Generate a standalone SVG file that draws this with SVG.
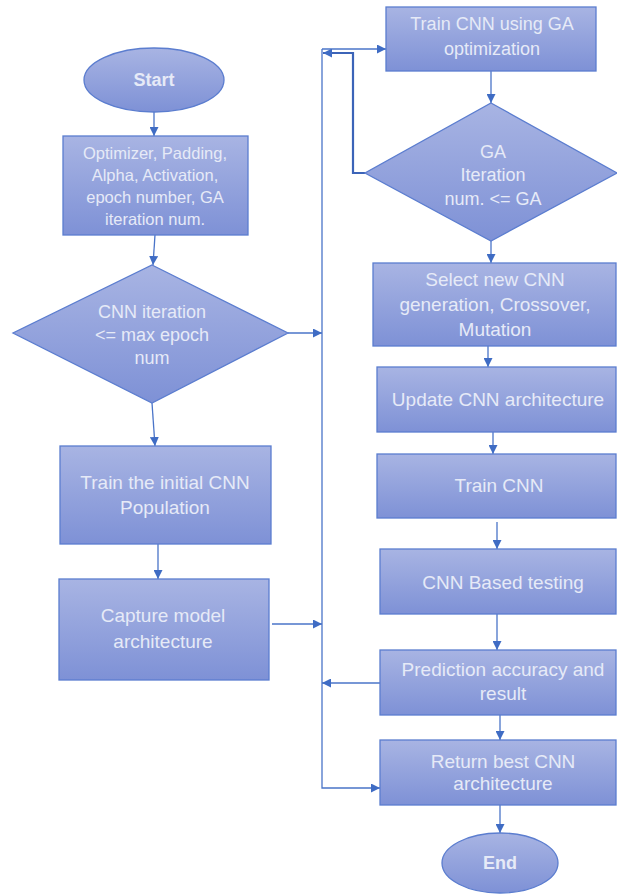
<svg xmlns="http://www.w3.org/2000/svg" width="617" height="896" viewBox="0 0 617 896">
<style>
.n{fill:url(#g);stroke:#5b7dcf;stroke-width:1.3}
.t{font-family:"Liberation Sans",Arial,sans-serif;font-size:19px;fill:#e6eaf7;text-anchor:middle}
.s{font-size:16.5px}
.m{font-size:18px}
.b{font-weight:bold}
.c{fill:none;stroke:#4a74c8;stroke-width:1.3}
.k{fill:none;stroke:#3c64b8;stroke-width:2.2}
</style>
<defs>
<linearGradient id="g" x1="0" y1="0" x2="0" y2="1">
<stop offset="0" stop-color="#a8b4e3"/>
<stop offset="1" stop-color="#7e91d6"/>
</linearGradient>
<marker id="a" viewBox="0 0 10 10" refX="10" refY="5" markerWidth="9" markerHeight="9" markerUnits="userSpaceOnUse" orient="auto">
<path d="M0,0 L10,5 L0,10 z" fill="#3f6cc4"/>
</marker>
</defs>
<rect width="617" height="896" fill="#ffffff"/>
<g id="connectors">
<path class="c" d="M154,112 V136" marker-end="url(#a)"/>
<path class="c" d="M155,235 L153,265" marker-end="url(#a)"/>
<path class="c" d="M288,333 H322" marker-end="url(#a)"/>
<path class="c" d="M152,403 L155,446" marker-end="url(#a)"/>
<path class="c" d="M158,544 V579" marker-end="url(#a)"/>
<path class="c" d="M272,624 H322" marker-end="url(#a)"/>
<path class="c" d="M322,49 V788 H380" marker-end="url(#a)"/>
<path class="c" d="M322,49 H386" marker-end="url(#a)"/>
<path class="k" d="M365,173 H353 V53 H323" marker-end="url(#a)"/>
<path class="c" d="M491,71 V103" marker-end="url(#a)"/>
<path class="c" d="M491,241 V263" marker-end="url(#a)"/>
<path class="c" d="M488,346 V367" marker-end="url(#a)"/>
<path class="c" d="M493,432 V454" marker-end="url(#a)"/>
<path class="c" d="M497,522 V549" marker-end="url(#a)"/>
<path class="c" d="M497,614 V650" marker-end="url(#a)"/>
<path class="c" d="M380,683 H322" marker-end="url(#a)"/>
<path class="c" d="M500,715 V740" marker-end="url(#a)"/>
<path class="c" d="M500,805 V833" marker-end="url(#a)"/>
</g>
<g id="start">
<ellipse class="n" cx="154" cy="80" rx="70" ry="32"/>
<text class="t b m" x="154" y="86">Start</text>
</g>
<g id="params">
<rect class="n" x="63" y="136" width="185" height="99"/>
<text class="t s" x="155" y="159">Optimizer, Padding,</text>
<text class="t s" x="155" y="181">Alpha, Activation,</text>
<text class="t s" x="155" y="203">epoch number, GA</text>
<text class="t s" x="155" y="225">iteration num.</text>
</g>
<g id="cnn-iter">
<polygon class="n" points="152,265 288,333 152,403 13,333"/>
<text class="t m" x="152" y="318">CNN iteration</text>
<text class="t m" x="152" y="341">&lt;= max epoch</text>
<text class="t m" x="152" y="364">num</text>
</g>
<g id="train-initial">
<rect class="n" x="60" y="446" width="211" height="98"/>
<text class="t" x="165" y="489">Train the initial CNN</text>
<text class="t" x="165" y="514">Population</text>
</g>
<g id="capture">
<rect class="n" x="59" y="579" width="210" height="101"/>
<text class="t" x="163" y="622">Capture model</text>
<text class="t" x="163" y="648">architecture</text>
</g>
<g id="train-ga">
<rect class="n" x="386" y="7" width="210" height="64"/>
<text class="t m" x="492" y="30">Train CNN using GA</text>
<text class="t m" x="492" y="55">optimization</text>
</g>
<g id="ga-iter">
<polygon class="n" points="491,103 617,173 491,241 365,173"/>
<text class="t m" x="493" y="158">GA</text>
<text class="t m" x="493" y="181">Iteration</text>
<text class="t m" x="493" y="205">num. &lt;= GA</text>
</g>
<g id="select">
<rect class="n" x="373" y="263" width="243" height="83"/>
<text class="t" x="495" y="286">Select new CNN</text>
<text class="t" x="495" y="311">generation, Crossover,</text>
<text class="t" x="495" y="336">Mutation</text>
</g>
<g id="update">
<rect class="n" x="377" y="367" width="239" height="65"/>
<text class="t" x="498" y="406">Update CNN architecture</text>
</g>
<g id="train-cnn">
<rect class="n" x="377" y="454" width="239" height="64"/>
<text class="t" x="499" y="492">Train CNN</text>
</g>
<g id="testing">
<rect class="n" x="380" y="549" width="236" height="65"/>
<text class="t" x="503" y="589">CNN Based testing</text>
</g>
<g id="prediction">
<rect class="n" x="380" y="650" width="236" height="65"/>
<text class="t" x="503" y="676">Prediction accuracy and</text>
<text class="t" x="503" y="700">result</text>
</g>
<g id="return">
<rect class="n" x="380" y="740" width="236" height="65"/>
<text class="t" x="503" y="768">Return best CNN</text>
<text class="t" x="503" y="790">architecture</text>
</g>
<g id="end">
<ellipse class="n" cx="500" cy="863" rx="58" ry="30"/>
<text class="t b m" x="500" y="869">End</text>
</g>
</svg>
